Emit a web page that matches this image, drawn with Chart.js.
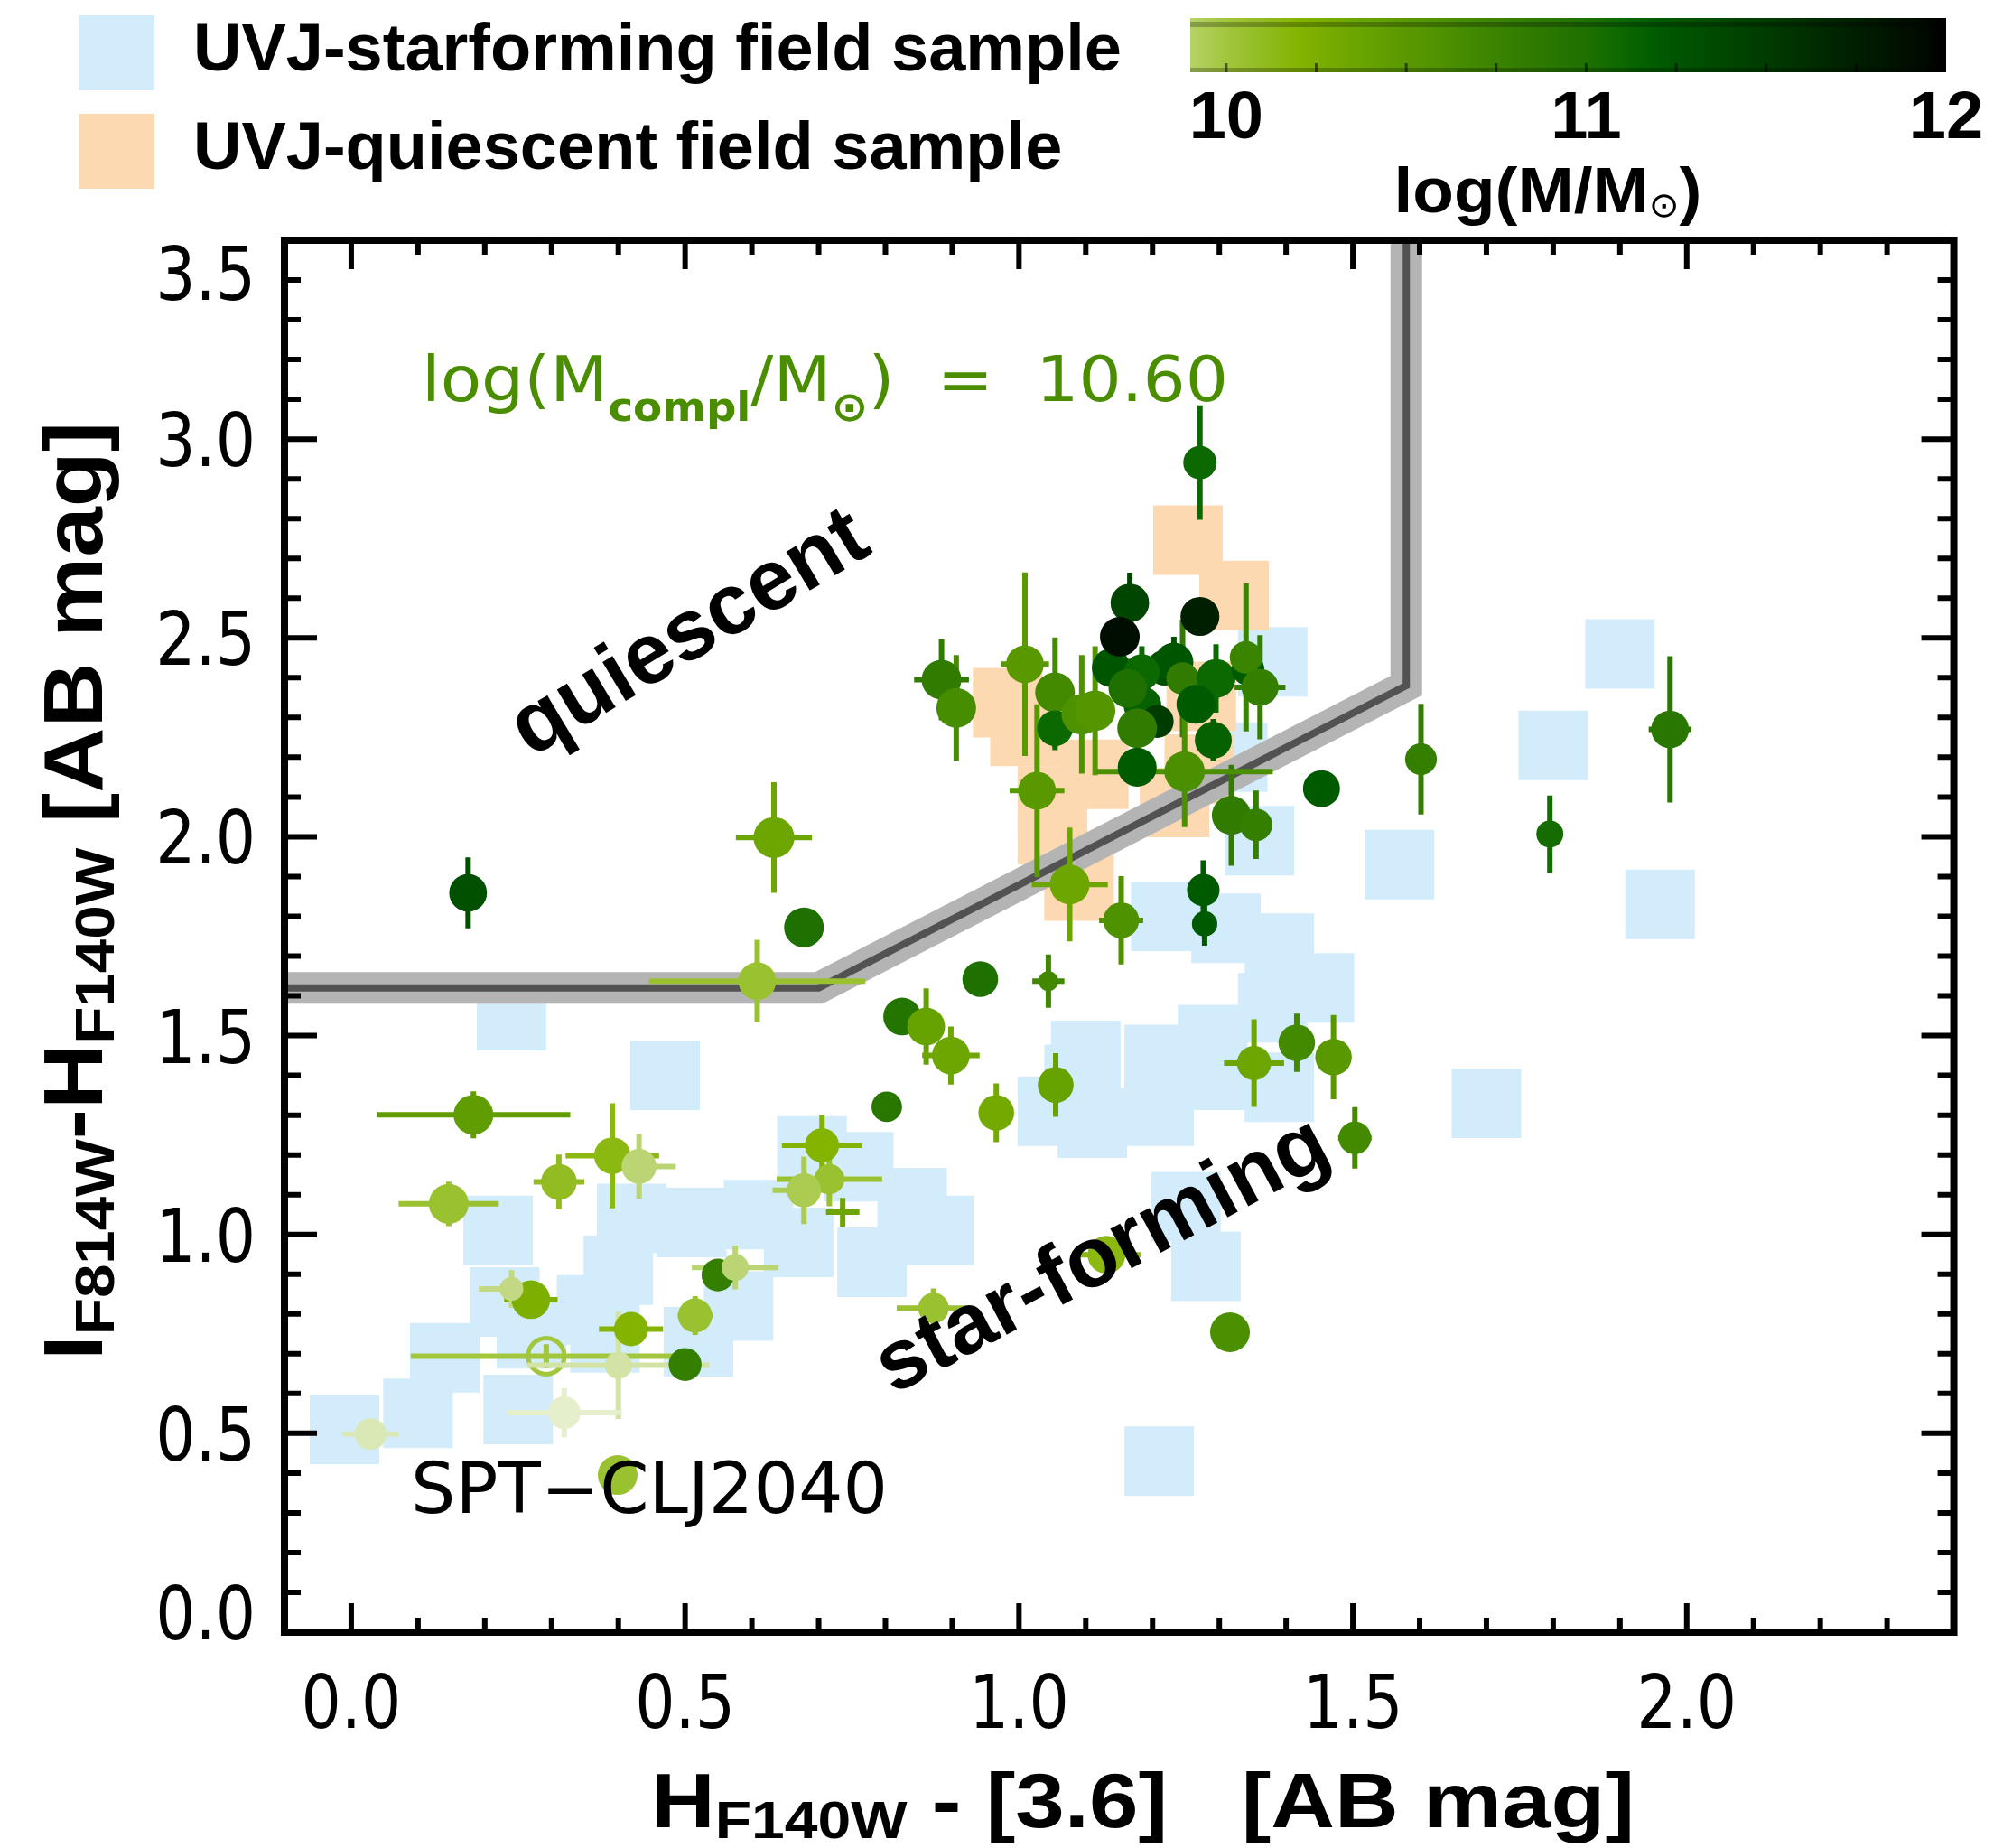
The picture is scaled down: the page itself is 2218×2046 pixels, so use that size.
<!DOCTYPE html>
<html>
<head>
<meta charset="utf-8">
<script src="https://cdn.jsdelivr.net/npm/chart.js@4.4.1/dist/chart.umd.min.js"></script>
<style>
  html, body { margin: 0; padding: 0; background: #fff; }
  canvas { display: block; }
</style>
</head>
<body>
<canvas id="chart" width="2218" height="2046"></canvas>
<script>
// UVJ star-forming field sample (binned)
const sfX = [-0.01, 0.10, 0.14, 0.25, 0.22, 0.24, 0.47, 0.23, 0.27, 0.36, 0.38, 0.40, 0.42, 0.51, 0.61, 0.52,
             0.58, 0.67, 0.69, 0.76, 0.84, 0.88, 0.78,
             1.05, 1.09, 1.10, 1.11, 1.21, 1.21, 1.21, 1.29, 1.29, 1.39, 1.38, 1.45, 1.39, 1.31, 1.22, 1.25,
             1.28, 1.21, 1.36, 1.38, 1.32, 1.57, 1.70, 1.80, 1.90, 1.96];
const sfY = [0.51, 0.55, 0.69, 0.56, 1.01, 1.55, 1.40, 0.83, 0.75, 0.81, 0.74, 0.91, 1.04, 1.03, 1.05, 0.73,
             0.82, 0.98, 1.21, 1.17, 1.08, 1.01, 0.93,
             1.31, 1.39, 1.45, 1.28, 1.44, 1.31, 1.40, 1.49, 1.40, 1.37, 1.57, 1.62, 1.72, 1.77, 1.80, 1.07,
             0.92, 0.43, 1.99, 2.44, 2.20, 1.93, 1.33, 2.23, 2.46, 1.83];

// UVJ quiescent field sample (binned)
const qX = [0.983, 1.009, 1.05, 1.05, 1.09, 1.112, 1.233, 1.27, 1.273, 1.253, 1.322];
const qY = [2.337, 2.265, 2.09, 2.018, 1.876, 2.157, 2.086, 2.17, 2.353, 2.746, 2.607];

// quiescent / star-forming dividing line
const cutX = [-0.1, 0.70, 1.58, 1.58];
const cutY = [1.62, 1.62, 2.38, 3.6];

// cluster members: colour, error bars, stellar mass, symbol weight
const px = [0.175, 0.633, 0.678, 0.608, 0.942, 0.825, 0.861, 0.898, 1.044, 1.055, 0.884, 0.906, 1.009, 1.054,
            1.054, 1.027, 1.076, 0.802, 0.966, 0.705, 0.716, 0.678, 0.736, 0.872, 1.131, 1.153, 1.278, 1.276,
            0.183, 0.146, 0.311, 0.391, 0.431, 0.269, 0.240, 0.419, 0.400, 0.500, 0.515, 0.549, 0.575, 0.319,
            0.029, 0.399, 1.352, 1.416, 1.471, 1.503, 1.795, 1.318, 1.355, 1.316, 1.271, 1.975, 1.602, 1.453,
            1.138, 1.218, 1.166, 1.151, 1.271, 1.232, 1.184, 1.245, 1.295, 1.343, 1.340, 1.361, 1.185, 1.207,
            1.163, 1.265, 1.291, 1.177, 1.177, 1.094, 1.114, 1.248];
const py = [1.859, 1.998, 1.772, 1.637, 1.642, 1.548, 1.523, 1.450, 1.637, 1.376, 2.395, 2.324, 2.434, 2.363,
            2.273, 2.116, 1.880, 1.321, 1.306, 1.224, 1.139, 1.111, 1.056, 0.815, 0.949, 1.790, 1.781, 1.866,
            1.301, 1.077, 1.132, 1.198, 1.171, 0.836, 0.863, 0.762, 0.671, 0.673, 0.796, 0.898, 0.917, 0.552,
            0.498, 0.395, 1.431, 1.482, 1.446, 1.243, 2.007, 2.054, 2.030, 0.754, 2.941, 2.270, 2.195, 2.121,
            2.425, 2.425, 2.588, 2.503, 2.554, 2.439, 2.414, 2.398, 2.398, 2.421, 2.451, 2.376, 2.330, 2.290,
            2.373, 2.333, 2.243, 2.273, 2.175, 2.308, 2.317, 2.164];
const pxe = [0, 0.057, 0, 0.162, 0, 0, 0, 0.043, 0.024, 0, 0.041, 0, 0.036, 0,
             0, 0.041, 0.057, 0, 0, 0.060, 0.079, 0.047, 0.025, 0.055, 0.051, 0.033, 0, 0,
             0.145, 0.075, 0.038, 0.070, 0.055, 0.040, 0.049, 0.048, 0.136, 0, 0.026, 0, 0.065, 0.086,
             0.0425, 0.02, 0.045, 0, 0, 0.025, 0, 0, 0, 0, 0, 0.032, 0, 0,
             0, 0, 0, 0, 0, 0, 0, 0, 0, 0, 0, 0.038, 0, 0,
             0, 0, 0, 0, 0, 0, 0, 0.132];
const pye = [0.089, 0.139, 0, 0.104, 0, 0, 0.096, 0.073, 0.067, 0.080, 0.102, 0.133, 0.231, 0.138,
             0.055, 0.217, 0.143, 0, 0.074, 0.076, 0.068, 0.085, 0.036, 0.049, 0, 0.111, 0.055, 0.075,
             0.059, 0.056, 0.069, 0.132, 0.081, 0, 0.047, 0, 0.135, 0, 0.049, 0, 0.055, 0.062,
             0, 0, 0.110, 0.073, 0.106, 0.077, 0.097, 0.127, 0.086, 0, 0.144, 0.184, 0.139, 0,
             0, 0, 0.076, 0, 0, 0.064, 0.065, 0.148, 0.086, 0, 0.186, 0.131, 0.070, 0,
             0.074, 0, 0.053, 0.106, 0, 0.149, 0.162, 0.140];
const pmass = [11.3, 10.35, 11.0, 10.05, 11.0, 10.95, 10.4, 10.35, 10.7, 10.4, 10.85, 10.65, 10.5, 10.68,
               11.1, 10.5, 10.35, 10.9, 10.3, 10.2, 10.05, 9.95, 10.35, 10.05, 10.15, 10.6, 11.2, 11.2,
               10.45, 10.05, 10.1, 10.15, 9.85, 10.25, 9.8, 10.2, 9.6, 10.8, 10.05, 10.8, 9.85, 9.3,
               9.5, 10.05, 10.35, 10.68, 10.5, 10.68, 11.05, 10.85, 10.8, 10.62, 11.1, 10.9, 10.8, 11.2,
               11.25, 11.3, 11.4, 11.9, 11.75, 11.25, 11.1, 10.85, 11.1, 11.2, 10.75, 10.8, 11.15, 11.5,
               11.0, 11.2, 11.15, 10.85, 11.2, 10.6, 10.55, 10.62];
const pw = [0.95, 1.03, 1.0, 0.95, 0.9, 0.95, 0.95, 0.95, 0.5, 0.9, 1.0, 1.0, 0.95, 1.0,
            0.9, 0.95, 1.0, 0.77, 0.9, 0.86, 0.76, 0.86, 0, 0.77, 0.95, 0.9, 0.64, 0.82,
            1.0, 1.0, 0.9, 0.92, 0.88, 0.97, 0.6, 0.86, 0.68, 0.83, 0.86, 0.82, 0.68, 0.82,
            0.8, 1.0, 0.86, 0.92, 0.92, 0.82, 0.68, 0.98, 0.82, 1.0, 0.84, 0.95, 0.8, 0.93,
            0.97, 0.9, 0.97, 1.0, 0.98, 0.98, 0.9, 0.82, 0.98, 0.82, 0.82, 0.93, 0.95, 0.83,
            0.97, 0.98, 0.93, 1.0, 0.98, 1.02, 1.02, 1.02];

// open symbol
const openX = [0.292];
const openY = [0.694];
const openXe = [0.203];
const openYe = [0.030];
const openMass = [10.0];

// ticks and labels
const xTicks = [0.0, 0.5, 1.0, 1.5, 2.0];
const yTicks = [0.0, 0.5, 1.0, 1.5, 2.0, 2.5, 3.0, 3.5];
const cbTicks = [10, 11, 12];
const cbMin = 9.9, cbMax = 12.0;
const massCompl = '10.60';
const clusterName = 'SPT\u2212CLJ2040';

// colour table for log(M/Msun)
const cmap = [
  [9.0, '#f6f9ec'], [9.5, '#dae8b6'], [9.8, '#c2d882'], [9.9, '#b6d266'], [10.0, '#a2c63c'],
  [10.1, '#92bc22'], [10.2, '#84b400'], [10.3, '#74aa00'], [10.4, '#66a200'], [10.5, '#5a9800'],
  [10.6, '#4e9200'], [10.7, '#418800'], [10.8, '#357f00'], [10.9, '#2a7700'], [11.0, '#1e7000'],
  [11.1, '#0c6800'], [11.2, '#005a00'], [11.3, '#005000'], [11.4, '#004500'], [11.5, '#003c00'],
  [11.75, '#001e00'], [11.9, '#000e00'], [12.0, '#000000']
];

function hexRgb(h) {
  return [parseInt(h.substr(1, 2), 16), parseInt(h.substr(3, 2), 16), parseInt(h.substr(5, 2), 16)];
}

function massColor(m) {
  if (m <= cmap[0][0]) return cmap[0][1];
  for (let i = 1; i < cmap.length; i++) {
    if (m <= cmap[i][0]) {
      const a = hexRgb(cmap[i - 1][1]), b = hexRgb(cmap[i][1]);
      const f = (m - cmap[i - 1][0]) / (cmap[i][0] - cmap[i - 1][0]);
      const c = a.map((v, k) => Math.round(v + (b[k] - v) * f));
      return `rgb(${c[0]},${c[1]},${c[2]})`;
    }
  }
  return cmap[cmap.length - 1][1];
}

const BOLD = s => `bold ${s}px "Liberation Sans", Arial, Helvetica, sans-serif`;
const PLAIN = s => `${s}px "DejaVu Sans", sans-serif`;

function drawRich(ctx, parts, x, y, opt) {
  opt = opt || {};
  ctx.save();
  let w = 0;
  for (const p of parts) {
    ctx.font = p.font;
    p.w = ctx.measureText(p.t).width;
    w += p.w;
  }
  const sx = opt.width ? opt.width / w : (opt.sx || 1);
  ctx.translate(x, y);
  if (opt.angle) ctx.rotate(opt.angle);
  ctx.scale(sx, 1);
  let cx = opt.align === 'center' ? -w / 2 : opt.align === 'right' ? -w : 0;
  ctx.fillStyle = opt.color || '#000';
  ctx.textAlign = 'left';
  ctx.textBaseline = 'alphabetic';
  for (const p of parts) {
    ctx.font = p.font;
    ctx.fillText(p.t, cx, p.dy || 0);
    cx += p.w;
  }
  ctx.restore();
}

function drawErrors(chart, xs, ys, xe, ye, ms) {
  const { ctx, chartArea, scales: { x, y } } = chart;
  ctx.save();
  ctx.beginPath();
  ctx.rect(chartArea.left, chartArea.top, chartArea.right - chartArea.left, chartArea.bottom - chartArea.top);
  ctx.clip();
  ctx.lineWidth = 6;
  ctx.lineCap = 'butt';
  xs.forEach((v, i) => {
    const cx = x.getPixelForValue(v), cy = y.getPixelForValue(ys[i]);
    ctx.strokeStyle = massColor(ms[i]);
    ctx.beginPath();
    if (xe[i] > 0) {
      ctx.moveTo(x.getPixelForValue(v - xe[i]), cy);
      ctx.lineTo(x.getPixelForValue(v + xe[i]), cy);
    }
    if (ye[i] > 0) {
      ctx.moveTo(cx, y.getPixelForValue(ys[i] - ye[i]));
      ctx.lineTo(cx, y.getPixelForValue(ys[i] + ye[i]));
    }
    ctx.stroke();
  });
  ctx.restore();
}

const isMajor = v => Math.abs(v * 2 - Math.round(v * 2)) < 1e-6;

const decor = {
  id: 'decor',
  beforeDatasetDraw(chart, args) {
    if (args.index === 0) drawErrors(chart, px, py, pxe, pye, pmass);
    if (args.index === 1) drawErrors(chart, openX, openY, openXe, openYe, openMass);
  },
  afterDatasetsDraw(chart) {
    const { ctx, chartArea: a, scales: { x, y } } = chart;

    // labels inside the plot
    drawRich(ctx, [{ t: 'quiescent', font: BOLD(95), dy: 0.26 * 95 }], 765, 704,
      { angle: -31 * Math.PI / 180, align: 'center' });
    drawRich(ctx, [{ t: 'star-forming', font: BOLD(94), dy: 0.26 * 94 }], 1222, 1393,
      { angle: -28 * Math.PI / 180, align: 'center' });
    drawRich(ctx, [{ t: clusterName, font: PLAIN(78) }], 455, 1675, { width: 528 });
    drawRich(ctx, [
      { t: 'log(M', font: PLAIN(70) },
      { t: 'compl', font: 'bold 44px "DejaVu Sans", sans-serif', dy: 22 },
      { t: '/M', font: PLAIN(70) },
      { t: '\u2299', font: 'bold 46px "DejaVu Sans", sans-serif', dy: 22 },
      { t: ')  =  ' + massCompl, font: PLAIN(70) }
    ], 467, 444, { width: 893, color: '#4a8e00' });

    // frame
    ctx.save();
    ctx.strokeStyle = '#000';
    ctx.lineWidth = 8;
    ctx.strokeRect(a.left, a.top, a.right - a.left, a.bottom - a.top);
    ctx.lineWidth = 6;
    ctx.beginPath();
    x.ticks.forEach(t => {
      const v = t.value;
      if (v <= x.min + 1e-6 || v >= x.max - 1e-6) return;
      const p = x.getPixelForValue(v), L = isMajor(v) ? 32 : 16;
      ctx.moveTo(p, a.bottom); ctx.lineTo(p, a.bottom - L);
      ctx.moveTo(p, a.top); ctx.lineTo(p, a.top + L);
    });
    y.ticks.forEach(t => {
      const v = t.value;
      if (v <= y.min + 1e-6 || v >= y.max - 1e-6) return;
      const p = y.getPixelForValue(v), L = isMajor(v) ? 36 : 18;
      ctx.moveTo(a.left, p); ctx.lineTo(a.left + L, p);
      ctx.moveTo(a.right, p); ctx.lineTo(a.right - L, p);
    });
    ctx.stroke();
    ctx.restore();

    // tick labels
    xTicks.forEach(v => {
      drawRich(ctx, [{ t: v.toFixed(1), font: PLAIN(82) }], x.getPixelForValue(v), 1913,
        { align: 'center', sx: 0.85 });
    });
    yTicks.forEach(v => {
      const cy = Math.min(Math.max(y.getPixelForValue(v), a.top + 36), a.bottom - 22);
      drawRich(ctx, [{ t: v.toFixed(1), font: PLAIN(82) }], 283, cy + 30, { align: 'right', sx: 0.85 });
    });

    // axis titles
    drawRich(ctx, [
      { t: 'H', font: BOLD(86) },
      { t: 'F140W', font: BOLD(58), dy: 12 },
      { t: ' - [3.6]   [AB mag]', font: BOLD(86) }
    ], 721, 2023, { width: 1089 });
    drawRich(ctx, [
      { t: 'I', font: BOLD(92) },
      { t: 'F814W', font: BOLD(62), dy: 13 },
      { t: '-H', font: BOLD(92) },
      { t: 'F140W', font: BOLD(62), dy: 13 },
      { t: ' [AB mag]', font: BOLD(92) }
    ], 113, 1506, { width: 1039, angle: -Math.PI / 2 });

    // legend
    ctx.save();
    ctx.fillStyle = '#d2ecfc';
    ctx.fillRect(87, 17, 84, 83);
    ctx.fillStyle = '#fdd9b2';
    ctx.fillRect(87, 126, 84, 83);
    ctx.restore();
    drawRich(ctx, [{ t: 'UVJ-starforming field sample', font: BOLD(74) }], 214, 78);
    drawRich(ctx, [{ t: 'UVJ-quiescent field sample', font: BOLD(74) }], 214, 187);

    // colour bar
    const cbL = 1318, cbR = 2155, cbT = 20, cbB = 80;
    const cbPix = v => cbL + (v - cbMin) / (cbMax - cbMin) * (cbR - cbL);
    ctx.save();
    const g = ctx.createLinearGradient(cbL, 0, cbR, 0);
    for (let m = cbMin; m <= cbMax + 1e-6; m += 0.05) {
      g.addColorStop(Math.min(1, (m - cbMin) / (cbMax - cbMin)), massColor(m));
    }
    ctx.fillStyle = g;
    ctx.fillRect(cbL, cbT, cbR - cbL, cbB - cbT);
    ctx.fillStyle = 'rgba(0,0,0,0.25)';
    ctx.fillRect(cbL, cbT + 4, cbR - cbL, 6);
    ctx.fillRect(cbL, cbB - 5, cbR - cbL, 5);
    ctx.strokeStyle = 'rgba(0,0,0,0.55)';
    ctx.lineWidth = 3;
    ctx.beginPath();
    for (let m = 10; m < 12; m += 0.25) {
      ctx.moveTo(cbPix(m), cbB); ctx.lineTo(cbPix(m), cbB - 10);
    }
    ctx.stroke();
    ctx.restore();
    cbTicks.forEach(v => {
      drawRich(ctx, [{ t: String(v), font: BOLD(74) }], cbPix(v), 153, { align: 'center' });
    });
    drawRich(ctx, [
      { t: 'log(M/M', font: BOLD(70) },
      { t: '\u2299', font: '38px "DejaVu Sans", sans-serif', dy: 5 },
      { t: ')', font: BOLD(70) }
    ], 1714, 235, { width: 341, align: 'center' });
  }
};

const pts = (xs, ys) => xs.map((v, i) => ({ x: v, y: ys[i] }));

new Chart(document.getElementById('chart'), {
  type: 'scatter',
  data: {
    datasets: [
      {
        label: 'cluster',
        data: pts(px, py),
        pointRadius: c => 22 * pw[c.dataIndex],
        backgroundColor: c => massColor(pmass[c.dataIndex]),
        borderWidth: 0,
        clip: 0,
        order: 0
      },
      {
        label: 'open',
        data: pts(openX, openY),
        pointRadius: 20,
        backgroundColor: 'rgba(0,0,0,0)',
        borderColor: massColor(openMass[0]),
        borderWidth: 5,
        clip: 0,
        order: 1
      },
      {
        type: 'line',
        label: 'cut',
        data: pts(cutX, cutY),
        borderColor: '#525252',
        borderWidth: 8,
        pointRadius: 0,
        fill: false,
        clip: 0,
        order: 2
      },
      {
        type: 'line',
        label: 'cut band',
        data: pts(cutX, cutY),
        borderColor: '#b4b4b4',
        borderWidth: 35,
        pointRadius: 0,
        fill: false,
        clip: 0,
        order: 3
      },
      {
        label: 'UVJ-quiescent field sample',
        data: pts(qX, qY),
        pointStyle: 'rect',
        pointRadius: 54.45,
        backgroundColor: '#fdd9b2',
        borderWidth: 0,
        clip: 0,
        order: 4
      },
      {
        label: 'UVJ-starforming field sample',
        data: pts(sfX, sfY),
        pointStyle: 'rect',
        pointRadius: 54.45,
        backgroundColor: '#d2ecfc',
        borderWidth: 0,
        clip: 0,
        order: 5
      }
    ]
  },
  options: {
    responsive: false,
    devicePixelRatio: 1,
    animation: false,
    events: [],
    layout: { padding: { left: 0, right: 32, top: 266, bottom: 0 } },
    plugins: { legend: { display: false }, tooltip: { enabled: false } },
    scales: {
      x: {
        type: 'linear', min: -0.1, max: 2.4,
        ticks: { stepSize: 0.1, display: false, autoSkip: false },
        grid: { display: false, drawTicks: false },
        border: { display: false },
        afterFit: s => { s.height = 239; }
      },
      y: {
        type: 'linear', min: 0, max: 3.5,
        ticks: { stepSize: 0.1, display: false, autoSkip: false },
        grid: { display: false, drawTicks: false },
        border: { display: false },
        afterFit: s => { s.width = 315; }
      }
    }
  },
  plugins: [decor]
});
</script>
</body>
</html>
